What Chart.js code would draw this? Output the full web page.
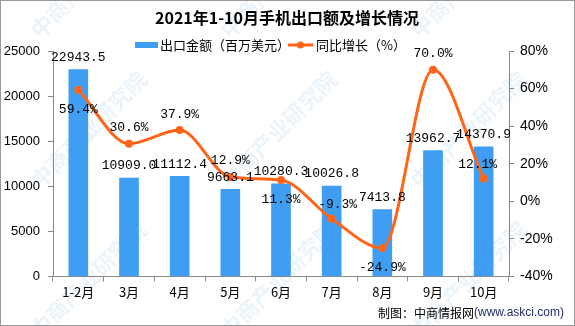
<!DOCTYPE html>
<html>
<head>
<meta charset="utf-8">
<script src="https://cdn.jsdelivr.net/npm/chart.js@4.4.0/dist/chart.umd.min.js"></script>
<style>
  html, body { margin: 0; padding: 0; background: #fff; }
  #wrap { width: 575px; height: 326px; position: relative; }
</style>
</head>
<body>
<div id="wrap"><canvas id="exportChart" width="575" height="326"></canvas></div>
<script>
const months = ["1-2月", "3月", "4月", "5月", "6月", "7月", "8月", "9月", "10月"];
const exportValue = [22943.5, 10909.0, 11112.4, 9663.1, 10280.3, 10026.8, 7413.8, 13962.7, 14370.9];
const growthRate = [59.4, 30.6, 37.9, 12.9, 11.3, -9.3, -24.9, 70.0, 12.1];
const leftTicks = [0, 5000, 10000, 15000, 20000, 25000];
const rightTicks = [-40, -20, 0, 20, 40, 60, 80];

// label offsets for the growth line (dx, dy from the point)
const growthLabelPos = [[0, 20], [0, -16], [0, -16], [0, -16], [0, 20], [6, -14], [0, 20], [0, -16], [-6, -14]];

const BLUE = "#3f9ef2";
const ORANGE = "#ff6417";
const labelFont = "13px 'Liberation Mono', 'DejaVu Sans Mono', monospace";

const frame = {
  id: "frame",
  beforeDraw(chart) {
    const ctx = chart.ctx;
    ctx.save();
    ctx.fillStyle = "#fff";
    ctx.fillRect(0, 0, chart.width, chart.height);
    // faint watermark
    ctx.fillStyle = "rgba(120,180,220,0.15)";
    ctx.font = "bold 22px 'Noto Sans CJK SC'";
    for (let gx = -150; gx < 700; gx += 190) {
      for (let gy = 40; gy < 500; gy += 150) {
        ctx.save();
        ctx.translate(gx, gy);
        ctx.rotate(-Math.PI / 4);
        ctx.fillText("中商产业研究院", 0, 0);
        ctx.restore();
      }
    }
    ctx.restore();
  },
  afterDraw(chart) {
    const ctx = chart.ctx;
    const x = chart.scales.x, yl = chart.scales.y, yr = chart.scales.y1;
    ctx.save();
    // title
    ctx.fillStyle = "#000";
    ctx.font = "bold 16px 'Noto Sans CJK SC'";
    ctx.textAlign = "center";
    ctx.textBaseline = "middle";
    ctx.fillText("2021年1-10月手机出口额及增长情况", 287, 18);

    // legend
    const barSet = chart.data.datasets.find(d => d.type === "bar");
    const lineSet = chart.data.datasets.find(d => d.type === "line");
    ctx.font = "13px 'Noto Sans CJK SC'";
    ctx.textAlign = "left";
    ctx.fillStyle = BLUE;
    ctx.fillRect(135, 42, 23, 6);
    ctx.fillStyle = "#000";
    ctx.fillText(barSet.label, 160, 45);
    ctx.strokeStyle = ORANGE;
    ctx.lineWidth = 3;
    ctx.beginPath(); ctx.moveTo(288, 45); ctx.lineTo(313, 45); ctx.stroke();
    ctx.fillStyle = ORANGE;
    ctx.beginPath(); ctx.arc(300.5, 45, 3.5, 0, Math.PI * 2); ctx.fill();
    ctx.fillStyle = "#000";
    ctx.fillText(lineSet.label, 316, 45);

    // value labels
    ctx.font = labelFont;
    ctx.textAlign = "center";
    ctx.textBaseline = "middle";
    exportValue.forEach((v, i) => {
      ctx.fillText(v.toFixed(1), x.getPixelForValue(i), yl.getPixelForValue(v) - 12);
    });
    growthRate.forEach((v, i) => {
      const [dx, dy] = growthLabelPos[i];
      ctx.fillText(v.toFixed(1) + "%", x.getPixelForValue(i) + dx, yr.getPixelForValue(v) + dy);
    });

    // source
    ctx.textAlign = "left";
    ctx.font = "12px 'Noto Sans CJK SC'";
    ctx.fillStyle = "#000";
    const src = "制图：中商情报网";
    ctx.fillText(src, 378, 313);
    const sx = 378 + ctx.measureText(src).width;
    ctx.font = "12px 'Liberation Sans'";
    ctx.fillStyle = "#1f2f6e";
    ctx.fillText("(www.askci.com)", sx, 313);

    // outer border
    ctx.strokeStyle = "#999";
    ctx.lineWidth = 1;
    ctx.strokeRect(0.5, 0.5, chart.width - 1, chart.height - 1);
    ctx.restore();
  }
};

new Chart(document.getElementById("exportChart"), {
  data: {
    labels: months,
    datasets: [
      {
        type: "line",
        label: "同比增长（%）",
        data: growthRate,
        yAxisID: "y1",
        borderColor: ORANGE,
        backgroundColor: ORANGE,
        borderWidth: 3,
        tension: 0.45,
        cubicInterpolationMode: "monotone",
        pointRadius: 4,
        pointBackgroundColor: ORANGE,
        pointBorderWidth: 0,
        order: 0
      },
      {
        type: "bar",
        label: "出口金额（百万美元）",
        data: exportValue,
        yAxisID: "y",
        backgroundColor: BLUE,
        barThickness: 19,
        order: 1
      }
    ]
  },
  options: {
    responsive: false,
    animation: false,
    layout: { padding: { top: 51, bottom: 23, left: 0, right: 0 } },
    plugins: { legend: { display: false }, tooltip: { enabled: false } },
    scales: {
      x: {
        offset: true,
        grid: { display: true, drawOnChartArea: false, offset: true, color: "#888", tickLength: 5 },
        border: { color: "#888" },
        ticks: { color: "#000", font: { size: 13, family: "'Noto Sans CJK SC'" }, padding: 3 }
      },
      y: {
        position: "left",
        min: 0, max: 25000,
        afterBuildTicks: s => { s.ticks = leftTicks.map(v => ({ value: v })); },
        afterFit: s => { s.width = 53; },
        grid: { drawOnChartArea: false, color: "#888", tickLength: 5 },
        border: { color: "#888" },
        ticks: { color: "#000", font: { size: 13, family: "'Liberation Sans'" }, padding: 8, callback: v => String(v) }
      },
      y1: {
        position: "right",
        min: -40, max: 80,
        afterBuildTicks: s => { s.ticks = rightTicks.map(v => ({ value: v })); },
        afterFit: s => { s.width = 66; },
        grid: { drawOnChartArea: false, color: "#888", tickLength: 5 },
        border: { color: "#888" },
        ticks: { color: "#000", font: { size: 14, family: "'Liberation Sans'" }, padding: 6, callback: v => v + "%" }
      }
    }
  },
  plugins: [frame]
});
</script>
</body>
</html>
